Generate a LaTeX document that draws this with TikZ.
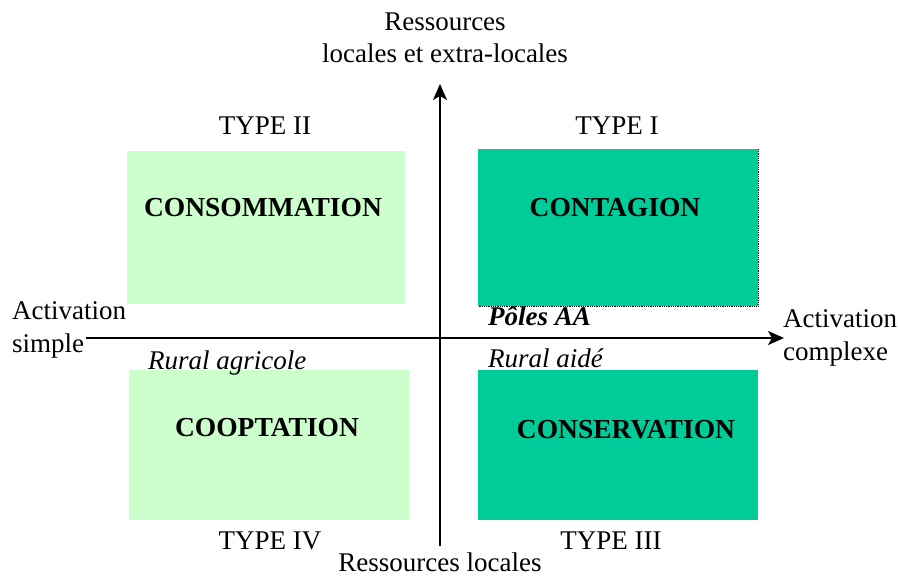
\documentclass[tikz,border=0pt]{standalone}
\usepackage{fontspec}
\setmainfont{Liberation Serif}
\usetikzlibrary{arrows.meta}
\definecolor{paleGreen}{HTML}{CCFFCC}
\definecolor{seaGreen}{HTML}{00CC99}
\begin{document}
\begin{tikzpicture}[x=1pt,y=-1pt,
  lbl/.style={font=\fontsize{27}{32.5}\selectfont, inner sep=0pt, align=center},
  quad/.style={font=\fontsize{27.5}{32}\selectfont\bfseries, inner sep=0pt},
  note/.style={font=\fontsize{27}{32}\selectfont\itshape, inner sep=0pt, anchor=west},
  axis/.style={line width=1.6pt, -{Stealth[length=16pt,width=14pt,inset=4pt]}}]
\useasboundingbox (0,0) rectangle (898,579);
% quadrant boxes
\fill[paleGreen] (127,151) rectangle (405,304);
\fill[seaGreen] (478,149) rectangle (758,306);
\draw[densely dotted, line width=0.8pt] (758,149) -- (758,306) -- (478,306);
\fill[paleGreen] (129,370) rectangle (409,520);
\fill[seaGreen] (478,370) rectangle (758,520);
% box titles
\node[quad] (consom) at (263,208) {CONSOMMATION};
\node[quad] (contag) at (615,208) {CONTAGION};
\node[quad] (coopt) at (267,428) {COOPTATION};
\node[quad] (conserv) at (626,430) {CONSERVATION};
% type labels
\node[lbl] (t2) at (265,126) {TYPE II};
\node[lbl] (t1) at (617,126) {TYPE I};
\node[lbl] (t4) at (270,541) {TYPE IV};
\node[lbl] (t3) at (611,541) {TYPE III};
% axis ends
\node[lbl] (top) at (445,38) {Ressources\\locales et extra-locales};
\node[font=\fontsize{27}{32.5}\selectfont, inner sep=0pt, anchor=base] (bottom) at (440,571) {Ressources locales};
\node[lbl, align=left, anchor=west] (left) at (12,330) {Activation\\simple};
\node[lbl, align=left, anchor=west] (right) at (783,338) {Activation\\complexe};
% axes
\coordinate (vbot) at (440,546);
\coordinate (vtop) at (440,84);
\coordinate (hleft) at (86,338);
\coordinate (hright) at (784,338);
\draw[axis] (vbot) -- (vtop);
\draw[axis] (hleft) -- (hright);
% annotations
\node[note, font=\fontsize{27}{32}\selectfont\bfseries\itshape] (poles) at (488,316) {Pôles AA};
\node[note] (aide) at (488,358) {Rural aidé};
\node[note] (agri) at (148,363) {Rural agricole};
\end{tikzpicture}
\end{document}
